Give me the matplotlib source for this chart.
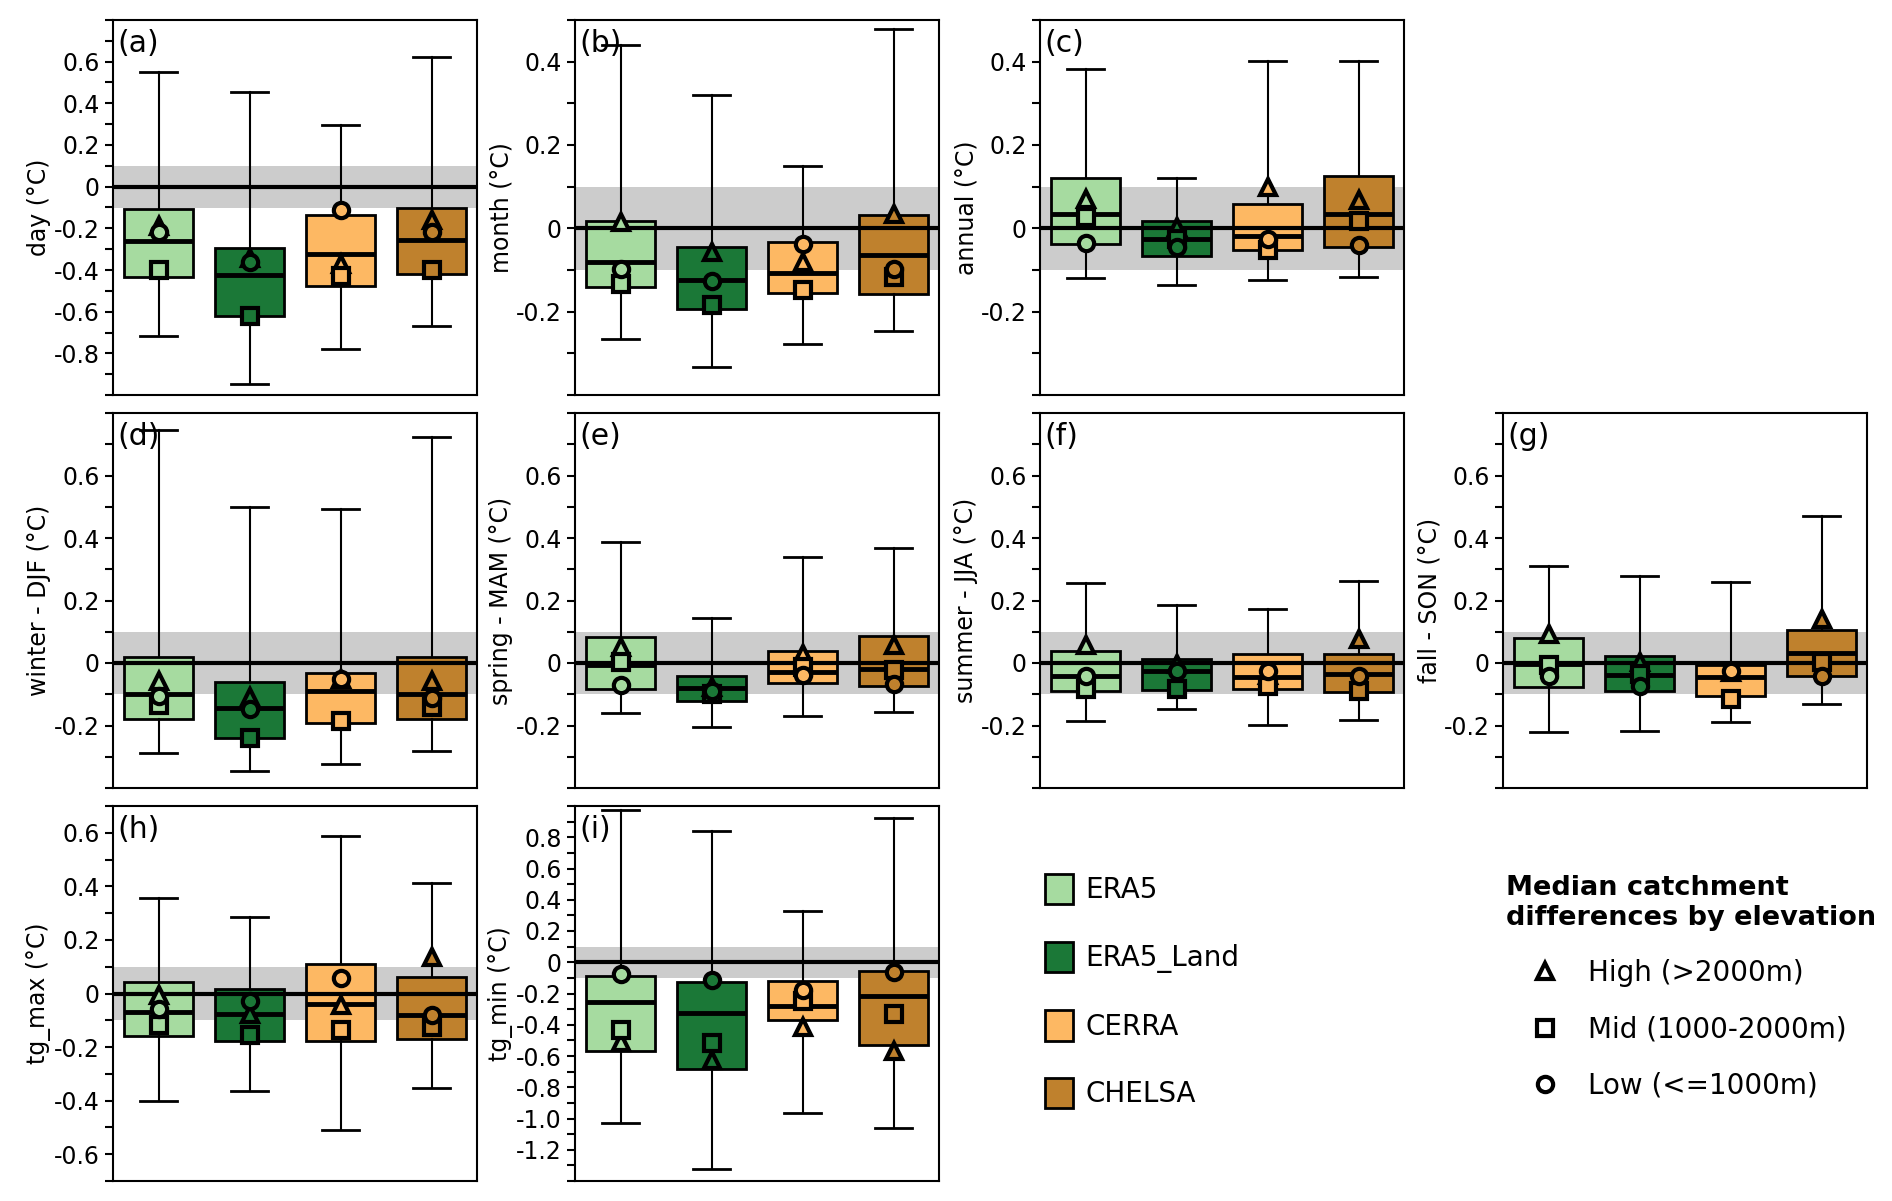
import matplotlib.pyplot as plt
from matplotlib.patches import Patch
from matplotlib.lines import Line2D

plt.rcParams['font.family'] = 'DejaVu Sans'
plt.rcParams['axes.unicode_minus'] = False

# ---- data (rows = panels a..i, columns = models) ----
models = ['ERA5', 'ERA5_Land', 'CERRA', 'CHELSA']
panels = ['(a)', '(b)', '(c)', '(d)', '(e)', '(f)', '(g)', '(h)', '(i)']
ylabels = ['day (°C)', 'month (°C)', 'annual (°C)',
           'winter - DJF (°C)', 'spring - MAM (°C)', 'summer - JJA (°C)', 'fall - SON (°C)',
           'tg_max (°C)', 'tg_min (°C)']

med = [[-0.261, -0.426, -0.322, -0.257],
       [-0.081, -0.123, -0.107, -0.065],
       [0.035, -0.026, -0.018, 0.034],
       [-0.098, -0.143, -0.091, -0.098],
       [-0.007, -0.079, -0.029, -0.019],
       [-0.040, -0.027, -0.045, -0.034],
       [-0.002, -0.037, -0.046, 0.032],
       [-0.069, -0.077, -0.041, -0.081],
       [-0.256, -0.326, -0.279, -0.215]]
q1 = [[-0.434, -0.619, -0.478, -0.417],
      [-0.142, -0.193, -0.155, -0.157],
      [-0.038, -0.067, -0.051, -0.046],
      [-0.179, -0.239, -0.193, -0.179],
      [-0.082, -0.123, -0.065, -0.075],
      [-0.090, -0.086, -0.083, -0.092],
      [-0.077, -0.090, -0.105, -0.043],
      [-0.158, -0.176, -0.178, -0.170],
      [-0.565, -0.685, -0.369, -0.529]]
q3 = [[-0.108, -0.293, -0.135, -0.103],
      [0.018, -0.046, -0.034, 0.031],
      [0.121, 0.017, 0.059, 0.125],
      [0.020, -0.062, -0.032, 0.018],
      [0.083, -0.043, 0.040, 0.088],
      [0.039, 0.013, 0.028, 0.028],
      [0.079, 0.024, -0.005, 0.107],
      [0.044, 0.015, 0.110, 0.060],
      [-0.085, -0.128, -0.119, -0.055]]
whisker_lo = [[-0.716, -0.946, -0.780, -0.671],
              [-0.266, -0.333, -0.278, -0.247],
              [-0.119, -0.137, -0.123, -0.116],
              [-0.288, -0.346, -0.323, -0.280],
              [-0.159, -0.204, -0.170, -0.158],
              [-0.184, -0.147, -0.198, -0.181],
              [-0.222, -0.219, -0.189, -0.132],
              [-0.400, -0.363, -0.508, -0.354],
              [-1.030, -1.320, -0.962, -1.058]]
whisker_hi = [[0.550, 0.455, 0.294, 0.624],
              [0.439, 0.321, 0.149, 0.479],
              [0.382, 0.120, 0.402, 0.402],
              [0.747, 0.500, 0.492, 0.723],
              [0.388, 0.143, 0.339, 0.368],
              [0.256, 0.186, 0.173, 0.261],
              [0.312, 0.278, 0.260, 0.469],
              [0.356, 0.285, 0.587, 0.414],
              [0.975, 0.838, 0.331, 0.921]]
# median catchment differences by elevation class
high = [[-0.19, -0.34, -0.37, -0.16],
        [0.015, -0.057, -0.081, 0.035],
        [0.071, 0.003, 0.100, 0.067],
        [-0.056, -0.110, -0.050, -0.056],
        [0.051, -0.077, 0.030, 0.057],
        [0.059, -0.002, -0.037, 0.076],
        [0.094, 0.003, -0.029, 0.142],
        [-0.006, -0.075, -0.044, 0.137],
        [-0.508, -0.625, -0.412, -0.567]]
mid = [[-0.40, -0.62, -0.43, -0.40],
       [-0.133, -0.185, -0.149, -0.117],
       [0.027, -0.025, -0.051, 0.018],
       [-0.133, -0.240, -0.186, -0.141],
       [0.003, -0.098, -0.013, -0.021],
       [-0.082, -0.082, -0.075, -0.088],
       [-0.007, -0.034, -0.114, 0.003],
       [-0.119, -0.156, -0.135, -0.125],
       [-0.433, -0.518, -0.247, -0.331]]
low = [[-0.22, -0.36, -0.11, -0.22],
       [-0.097, -0.126, -0.037, -0.097],
       [-0.035, -0.046, -0.025, -0.039],
       [-0.104, -0.147, -0.050, -0.112],
       [-0.070, -0.088, -0.037, -0.066],
       [-0.043, -0.024, -0.024, -0.043],
       [-0.043, -0.075, -0.024, -0.043],
       [-0.056, -0.029, 0.059, -0.082],
       [-0.075, -0.113, -0.177, -0.060]]

elev_labels = ['High (>2000m)', 'Mid (1000-2000m)', 'Low (<=1000m)']

# ---- layout / style ----
colors = ['#a6dba0', '#1b7837', '#fdb863', '#bf812d']
ylims = [(-1.0, 0.8), (-0.4, 0.5), (-0.4, 0.5),
         (-0.4, 0.8), (-0.4, 0.8), (-0.4, 0.8), (-0.4, 0.8),
         (-0.7, 0.7), (-1.4, 1.0)]
grid_pos = [(0, 0), (0, 1), (0, 2), (1, 0), (1, 1), (1, 2), (1, 3), (2, 0), (2, 1)]
W, H = 1892, 1201
col_left = [113, 575, 1040, 1503]
row_top = [20, 413, 806]
ax_w, ax_h = 364, 375
MS, MEW = 11, 3

fig = plt.figure(figsize=(W / 100, H / 100), dpi=100)


def fmt(v):
    return '0' if abs(v) < 1e-9 else f'{v:.1f}'


for i in range(9):
    r, c = grid_pos[i]
    ax = fig.add_axes([col_left[c] / W, 1 - (row_top[r] + ax_h) / H, ax_w / W, ax_h / H])
    lo, hi = ylims[i]

    ax.axhspan(-0.1, 0.1, color='#cccccc', zorder=0, lw=0)

    stats = [dict(med=med[i][j], q1=q1[i][j], q3=q3[i][j],
                  whislo=whisker_lo[i][j], whishi=whisker_hi[i][j], fliers=[])
             for j in range(4)]
    bp = ax.bxp(stats, positions=range(4), widths=0.75, capwidths=0.4,
                patch_artist=True, showfliers=False,
                boxprops=dict(linewidth=2, edgecolor='black'),
                medianprops=dict(color='black', linewidth=3.5),
                whiskerprops=dict(color='black', linewidth=1.5),
                capprops=dict(color='black', linewidth=2))
    for patch, col in zip(bp['boxes'], colors):
        patch.set_facecolor(col)

    ax.axhline(0, color='black', lw=3, zorder=3)

    for j in range(4):
        for vals, mk in ((high, '^'), (mid, 's'), (low, 'o')):
            ax.plot(j, vals[i][j], ls='none', marker=mk, ms=MS, mfc=colors[j],
                    mec='black', mew=MEW, zorder=4)

    ax.set_xlim(-0.5, 3.5)
    ax.set_ylim(lo, hi)
    ax.set_xticks([])
    n0 = int(round(lo * 10))
    n1 = int(round(hi * 10))
    majors = [k / 10 for k in range(n0, n1 + 1) if k % 2 == 0]
    minors = [k / 10 for k in range(n0, n1 + 1) if k % 2 != 0]
    ax.set_yticks(majors)
    ax.set_yticks(minors, minor=True)
    ax.set_yticklabels(['' if (abs(v - lo) < 1e-9 or abs(v - hi) < 1e-9) else fmt(v)
                        for v in majors])
    ax.tick_params(axis='y', which='both', length=6, width=1.5, labelsize=17)
    for sp in ax.spines.values():
        sp.set_linewidth(1.5)
    ax.set_ylabel(ylabels[i], fontsize=17, labelpad=2)
    ax.text(0.012, 0.975, panels[i], transform=ax.transAxes, fontsize=21.5,
            va='top', ha='left', zorder=6)

# ---- legends ----
model_handles = [Patch(facecolor=col, edgecolor='black', linewidth=2, label=m)
                 for col, m in zip(colors, models)]
fig.legend(handles=model_handles, loc='upper left',
           bbox_to_anchor=(1045 / W, 1 - 874 / H), frameon=False, fontsize=20,
           handlelength=1.0, handleheight=1.3, handletextpad=0.45,
           labelspacing=1.34, borderpad=0, borderaxespad=0)

elev_handles = [Line2D([], [], ls='none', marker=mk, ms=MS, mfc='white', mec='black',
                       mew=MEW, label=lab)
                for mk, lab in zip(['^', 's', 'o'], elev_labels)]
fig.legend(handles=elev_handles, loc='upper left',
           bbox_to_anchor=(1503 / W, 1 - 872 / H), frameon=False, fontsize=20,
           title='Median catchment\ndifferences by elevation',
           title_fontproperties={'weight': 'bold', 'size': 19.5}, alignment='left',
           handlelength=2.8, handletextpad=0.15, labelspacing=1.02,
           borderpad=0.1, borderaxespad=0)

fig.savefig('out.png', dpi=100)
